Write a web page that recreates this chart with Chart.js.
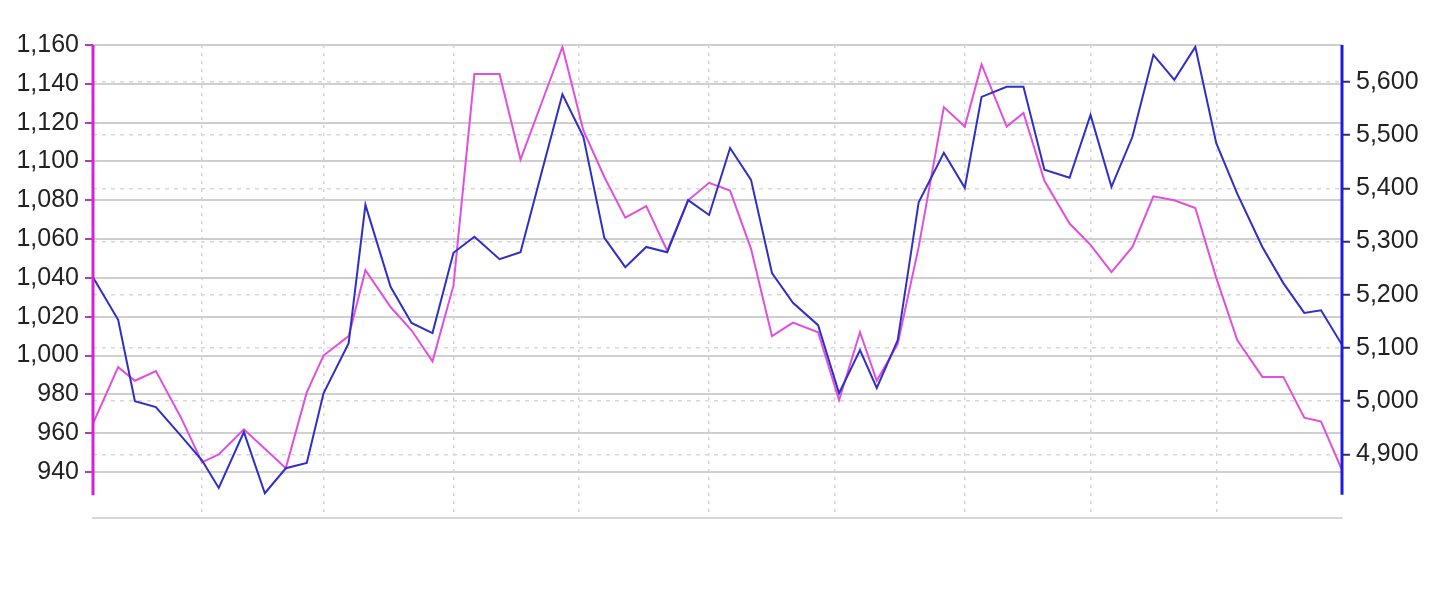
<!DOCTYPE html>
<html>
<head>
<meta charset="utf-8">
<script src="https://cdn.jsdelivr.net/npm/chart.js@4.4.1/dist/chart.umd.min.js"></script>
<style>
  html, body { margin: 0; padding: 0; background: #fff; }
  #wrap { width: 1447px; height: 600px; }
</style>
</head>
<body>
<div id="wrap"><canvas id="chart" width="1447" height="600"></canvas></div>
<script>
// Day offsets of each sample
const days = [0, 6, 10, 15, 21, 26, 30, 36, 41, 46, 51, 55, 61, 65, 71, 76, 81, 86, 91, 97,
  102, 107, 112, 117, 122, 127, 132, 137, 142, 147, 152, 157, 162, 167, 173, 178, 183, 187, 192, 197,
  203, 208, 212, 218, 222, 227, 233, 238, 243, 248, 253, 258, 263, 268, 273, 279, 284, 289, 293, 298];

// Left axis series (magenta)
const pinkValues = [965, 994, 987, 992, 968, 945, 949, 962, 952, 942, 981, 1000, 1010, 1044, 1025, 1013, 997, 1036, 1145, 1145,
  1101, 1130, 1159, 1116, 1092, 1071, 1077, 1054, 1080, 1089, 1085, 1055, 1010, 1017, 1012, 977, 1012, 987, 1006, 1056,
  1128, 1118, 1150, 1118, 1125, 1090, 1068, 1057, 1043, 1056, 1082, 1080, 1076, 1040, 1008, 989, 989, 968, 966, 941];

// Right axis series (blue)
const blueValues = [5233, 5153, 5000, 4989, 4935, 4889, 4837, 4942, 4827, 4874, 4884, 5015, 5109, 5369, 5215, 5147, 5128, 5279, 5309, 5267,
  5280, 5429, 5577, 5497, 5307, 5252, 5290, 5280, 5378, 5350, 5476, 5416, 5241, 5185, 5143, 5015, 5096, 5025, 5115, 5374,
  5467, 5401, 5572, 5591, 5591, 5435, 5420, 5538, 5403, 5497, 5651, 5604, 5666, 5485, 5390, 5290, 5222, 5166, 5171, 5106];

const leftTicks = [940, 960, 980, 1000, 1020, 1040, 1060, 1080, 1100, 1120, 1140, 1160];
const rightTicks = [4900, 5000, 5100, 5200, 5300, 5400, 5500, 5600];
const monthLines = [26, 55, 86, 116, 147, 177, 208, 238, 268];

// where the coloured axis lines stop
const leftAxisEnd = 928;
const rightAxisEnd = 4824;

const PINK = '#e050dc';
const BLUE = '#2f2fc8';

const axisLines = {
  id: 'axisLines',
  afterDatasetsDraw(chart) {
    const { ctx, chartArea } = chart;
    const yl = chart.scales.yLeft;
    const yr = chart.scales.yRight;
    ctx.save();
    ctx.lineWidth = 3;
    ctx.strokeStyle = '#d424d4';
    ctx.beginPath();
    ctx.moveTo(chartArea.left, chartArea.top);
    ctx.lineTo(chartArea.left, yl.getPixelForValue(leftAxisEnd));
    ctx.stroke();
    ctx.strokeStyle = '#1c1ce0';
    ctx.beginPath();
    ctx.moveTo(chartArea.right, chartArea.top);
    ctx.lineTo(chartArea.right, yr.getPixelForValue(rightAxisEnd));
    ctx.stroke();
    ctx.restore();
  }
};

const fmt = v => v.toLocaleString('en-US');

new Chart(document.getElementById('chart'), {
  type: 'line',
  data: {
    datasets: [
      {
        label: 'Blue',
        data: days.map((d, i) => ({ x: d, y: blueValues[i] })),
        yAxisID: 'yRight',
        borderColor: BLUE,
        borderWidth: 2,
        pointRadius: 0,
        tension: 0
      },
      {
        label: 'Pink',
        data: days.map((d, i) => ({ x: d, y: pinkValues[i] })),
        yAxisID: 'yLeft',
        borderColor: PINK,
        borderWidth: 2,
        pointRadius: 0,
        tension: 0
      }
    ]
  },
  options: {
    responsive: false,
    animation: false,
    devicePixelRatio: 1,
    layout: { padding: { top: 45, left: 0, right: 0, bottom: 0 } },
    plugins: {
      legend: { display: false },
      tooltip: { enabled: false }
    },
    scales: {
      x: {
        type: 'linear',
        min: 0,
        max: 298,
        afterBuildTicks: s => { s.ticks = monthLines.map(v => ({ value: v })); },
        afterFit: s => { s.height = 82; },
        ticks: { display: false },
        grid: { color: '#d6d6d6', lineWidth: 1.5, drawTicks: false },
        border: { display: true, color: '#d8d8d8', width: 2, dash: [3, 5] }
      },
      yLeft: {
        type: 'linear',
        position: 'left',
        min: 916.3,
        max: 1160,
        afterBuildTicks: s => { s.ticks = leftTicks.map(v => ({ value: v })); },
        afterFit: s => { s.width = 93; },
        ticks: {
          autoSkip: false,
          padding: 6,
          color: '#222',
          font: { family: 'Liberation Sans', size: 25 },
          callback: v => fmt(v)
        },
        grid: { color: '#cfcfcf', lineWidth: 2, tickLength: 8, tickColor: '#b040b0', tickWidth: 2 },
        border: { display: false }
      },
      yRight: {
        type: 'linear',
        position: 'right',
        min: 4780.5,
        max: 5669.5,
        afterBuildTicks: s => { s.ticks = rightTicks.map(v => ({ value: v })); },
        afterFit: s => { s.width = 105; },
        ticks: {
          autoSkip: false,
          padding: 6,
          color: '#222',
          font: { family: 'Liberation Sans', size: 25 },
          callback: v => fmt(v)
        },
        grid: { color: '#d8d8d8', lineWidth: 1.5, tickLength: 8, tickColor: '#303070', tickWidth: 2, tickBorderDash: [] },
        border: { display: false, dash: [4, 5] }
      }
    }
  },
  plugins: [axisLines]
});
</script>
</body>
</html>
